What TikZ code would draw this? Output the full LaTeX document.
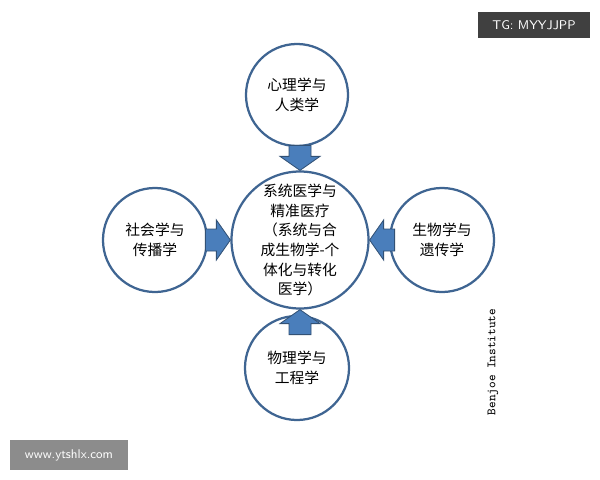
\documentclass[tikz,border=0pt]{standalone}
\usepackage{fontspec}
\newfontfamily\cjk{Noto Sans CJK SC}
\definecolor{ringblue}{HTML}{3F6592}
\definecolor{arrowblue}{HTML}{4A7EBB}
\tikzset{
  field/.style={circle,draw=ringblue,line width=1.6pt,fill=white,align=center,inner sep=0pt,font={\cjk\fontsize{10.5}{14}\selectfont}},
  push/.style={draw=ringblue!80!black,fill=arrowblue,line width=0.6pt}
}
% block arrow with its tip at #1, turned by #2
\newcommand\pusharrow[2]{%
  \draw[push,shift={(#1)},rotate=#2] (0,0) -- (-14,20) -- (-14,11) -- (-25,11) -- (-25,-11) -- (-14,-11) -- (-14,-20) -- cycle;}
\begin{document}
\begin{tikzpicture}[x=0.025cm,y=-0.025cm]
\useasboundingbox (0,0) rectangle (600,480);

\node[field,minimum size=3.35cm] (core) at (300,240) {\fontsize{10.5}{13}\selectfont 系统医学与\\精准医疗\\（系统与合\\成生物学-个\\体化与转化\\医学）};
\node[field,minimum size=2.55cm] (psy) at (297,95) {心理学与\\人类学};
\node[field,minimum size=2.6cm] (soc) at (155,240) {社会学与\\传播学};
\node[field,minimum size=2.6cm] (bio) at (442,240) {生物学与\\遗传学};
\node[field,minimum size=2.6cm] (phy) at (297,368) {物理学与\\工程学};

\pusharrow{core.north}{-90}
\pusharrow{core.west}{0}
\pusharrow{core.east}{180}
\pusharrow{core.south}{90}

% watermarks
\node[fill=black!75,text=white,font=\sffamily\small,minimum width=2.8cm,minimum height=0.65cm] (tag) at (534,25) {TG: MYYJJPP};
\node[fill=black!45,text=white,font=\sffamily\small,minimum width=2.95cm,minimum height=0.75cm] (site) at (69,455) {www.ytshlx.com};
\node[rotate=90,font=\ttfamily\small] (inst) at (493,362) {Benjoe Institute};
\end{tikzpicture}
\end{document}
